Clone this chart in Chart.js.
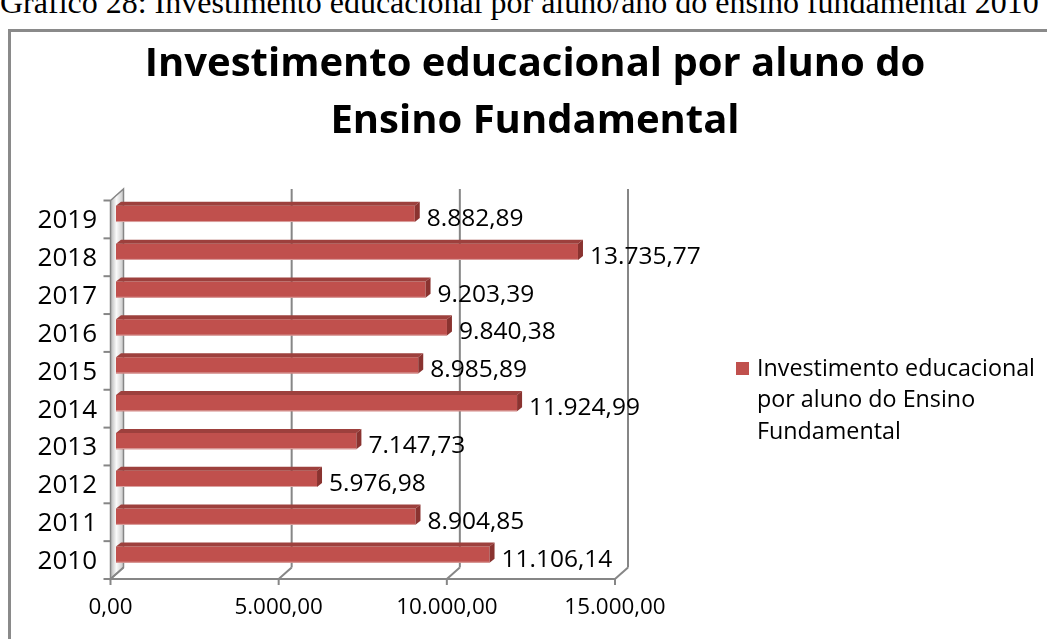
<!DOCTYPE html>
<html>
<head>
<meta charset="utf-8">
<script src="https://cdn.jsdelivr.net/npm/chart.js@4.4.1/dist/chart.umd.min.js"></script>
<style>
html, body { margin: 0; padding: 0; background: #fff; width: 1047px; height: 639px; overflow: hidden; }
#legenda-fig { position: absolute; left: 0; top: -16px; font: 32px "Liberation Serif", serif; white-space: nowrap; color: #000; }
#moldura { position: absolute; left: 8px; top: 29px; width: 1100px; height: 700px; border: 3px solid #8a8a8a; box-sizing: border-box; }
#wrap { position: absolute; left: 10px; top: 24px; width: 1050px; height: 620px; }
</style>
</head>
<body>
<div id="legenda-fig">Gráfico 28: Investimento educacional por aluno/ano do ensino fundamental 2010</div>
<div id="moldura"></div>
<div id="wrap"><canvas id="myChart"></canvas></div>
<script>
var anos = ['2010', '2011', '2012', '2013', '2014', '2015', '2016', '2017', '2018', '2019'];
var valores = [11106.14, 8904.85, 5976.98, 7147.73, 11924.99, 8985.89, 9840.38, 9203.39, 13735.77, 8882.89];
var ticksX = [0, 5000, 10000, 15000];
var serieNome = 'Investimento educacional por aluno do Ensino Fundamental';
var legendaLinhas = ['Investimento educacional', 'por aluno do Ensino', 'Fundamental'];
var titulo = ['Investimento educacional por aluno do', 'Ensino Fundamental'];

var fonte = '"Open Sans", "Liberation Sans", sans-serif';

// 8882.89 -> "8.882,89"
function fmt(v) {
    var p = Number(v).toFixed(2).split('.');
    return p[0].replace(/\B(?=(\d{3})+(?!\d))/g, '.') + ',' + p[1];
}

// deslocamentos do "3D": plano da frente e plano do fundo
var frX = -5.5, frY = 5.5, fuX = 7.5, fuY = -6;

var moldura3D = {
    id: 'moldura3D',
    beforeDatasetsDraw: function(chart) {
        var ctx = chart.ctx, a = chart.chartArea, sx = chart.scales.x;
        ctx.save();

        // parede esquerda
        var g = ctx.createLinearGradient(a.left + frX, 0, a.left + fuX, 0);
        g.addColorStop(0, '#b5b5b5');
        g.addColorStop(0.45, '#fafafa');
        g.addColorStop(1, '#c8c8c8');
        ctx.beginPath();
        ctx.moveTo(a.left + frX, a.top + frY);
        ctx.lineTo(a.left + fuX, a.top + fuY);
        ctx.lineTo(a.left + fuX, a.bottom + fuY);
        ctx.lineTo(a.left + frX, a.bottom + frY);
        ctx.closePath();
        ctx.fillStyle = g;
        ctx.fill();
        ctx.strokeStyle = '#868686';
        ctx.lineWidth = 1.5;
        ctx.stroke();

        // linhas de grade no fundo + chao
        ctx.lineWidth = 2;
        ticksX.forEach(function(v) {
            var x = sx.getPixelForValue(v);
            if (v > 0) {
                ctx.beginPath();
                ctx.moveTo(x + fuX, a.top + fuY);
                ctx.lineTo(x + fuX, a.bottom + fuY);
                ctx.stroke();
            }
            ctx.beginPath();
            ctx.moveTo(x + frX, a.bottom + frY);
            ctx.lineTo(x + fuX, a.bottom + fuY);
            ctx.stroke();
            // marca do eixo
            ctx.beginPath();
            ctx.moveTo(x + frX, a.bottom + frY);
            ctx.lineTo(x + frX, a.bottom + frY + 6);
            ctx.stroke();
        });

        // borda da frente do chao
        ctx.beginPath();
        ctx.moveTo(sx.getPixelForValue(ticksX[0]) + frX, a.bottom + frY);
        ctx.lineTo(sx.getPixelForValue(ticksX[ticksX.length - 1]) + frX, a.bottom + frY);
        ctx.stroke();

        // marcas do eixo das categorias
        var n = anos.length, passo = (a.bottom - a.top) / n;
        for (var i = 0; i <= n; i++) {
            var y = a.top + i * passo + frY;
            ctx.beginPath();
            ctx.moveTo(a.left + frX - 7, y);
            ctx.lineTo(a.left + frX, y);
            ctx.stroke();
        }
        ctx.restore();
    },
    afterDatasetsDraw: function(chart) {
        var ctx = chart.ctx, meta = chart.getDatasetMeta(0);
        var dx = 5, dy = 4;
        ctx.save();
        meta.data.forEach(function(el, i) {
            var top = el.y - el.height / 2, bot = el.y + el.height / 2;
            // face de cima
            ctx.beginPath();
            ctx.moveTo(el.base, top);
            ctx.lineTo(el.base + dx, top - dy);
            ctx.lineTo(el.x + dx, top - dy);
            ctx.lineTo(el.x, top);
            ctx.closePath();
            ctx.fillStyle = '#9d403d';
            ctx.fill();
            // ponta
            ctx.beginPath();
            ctx.moveTo(el.x, top);
            ctx.lineTo(el.x + dx, top - dy);
            ctx.lineTo(el.x + dx, bot - dy);
            ctx.lineTo(el.x, bot);
            ctx.closePath();
            ctx.fillStyle = '#8a3330';
            ctx.fill();
            // brilho de baixo
            ctx.beginPath();
            ctx.moveTo(el.base, bot - 0.5);
            ctx.lineTo(el.x, bot - 0.5);
            ctx.strokeStyle = '#dba3a1';
            ctx.lineWidth = 1;
            ctx.stroke();

            // rotulo de dados
            ctx.fillStyle = '#000';
            ctx.font = '24.5px ' + fonte;
            ctx.textAlign = 'left';
            ctx.textBaseline = 'middle';
            ctx.fillText(fmt(valores[i]), el.x + 12, el.y + 5);
        });
        ctx.restore();
    },
    afterDraw: function(chart) {
        var ctx = chart.ctx, a = chart.chartArea;
        var x = a.right + 115.5, y = a.top + 167;
        ctx.save();
        ctx.fillStyle = '#c0504d';
        ctx.fillRect(x, y, 13, 13);
        ctx.fillStyle = '#000';
        ctx.font = '23.3px ' + fonte;
        ctx.textBaseline = 'middle';
        legendaLinhas.forEach(function(t, i) {
            ctx.fillText(t, x + 21, y + 7 + i * 31.5);
        });
        ctx.restore();
    }
};

var ctx1 = document.getElementById('myChart').getContext('2d');
var myChart = new Chart(ctx1, {
    type: 'bar',
    data: {
        labels: anos,
        datasets: [{
            label: serieNome,
            data: valores,
            backgroundColor: '#c0504d',
            borderWidth: 0,
            barPercentage: 0.43,
            categoryPercentage: 1
        }]
    },
    options: {
        indexAxis: 'y',
        responsive: true,
        maintainAspectRatio: false,
        animation: false,
        layout: { padding: 0 },
        plugins: {
            legend: { display: false },
            tooltip: { enabled: false },
            title: {
                display: true,
                text: titulo,
                color: '#000',
                font: { family: fonte, size: 40, weight: 'bold', lineHeight: 1.425 },
                padding: { top: 12.5, bottom: 44.5 }
            }
        },
        scales: {
            x: {
                min: 0,
                max: 15000,
                afterFit: function(s) { s.height = 70.5; },
                grid: { display: false, drawTicks: false },
                border: { display: false },
                ticks: {
                    stepSize: 5000,
                    padding: 20.5,
                    labelOffset: frX,
                    color: '#000',
                    font: { family: fonte, size: 22.4 },
                    maxRotation: 0,
                    callback: function(v) { return fmt(v); }
                }
            },
            y: {
                reverse: true,
                afterFit: function(s) { s.width = 106; },
                grid: { display: false, drawTicks: false },
                border: { display: false },
                ticks: {
                    padding: 19,
                    labelOffset: frY + 1.5,
                    color: '#000',
                    font: { family: fonte, size: 26 }
                }
            },
            // espaco reservado para a legenda, a direita
            espacoLegenda: {
                type: 'category',
                position: 'right',
                afterFit: function(s) { s.width = 439.5; },
                grid: { display: false, drawTicks: false },
                border: { display: false },
                ticks: { display: false }
            }
        }
    },
    plugins: [moldura3D]
});
</script>
</body>
</html>
